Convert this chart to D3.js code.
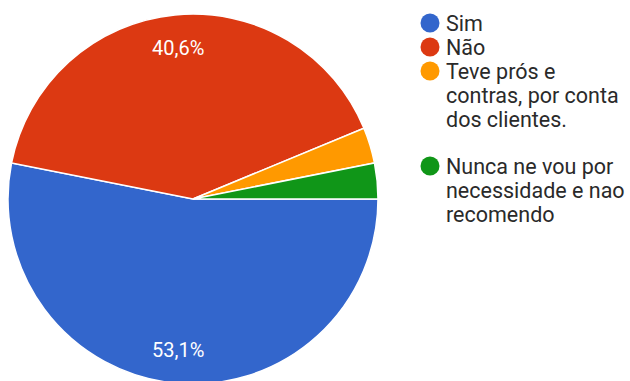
<!DOCTYPE html>
<html>
<head>
<meta charset="utf-8">
<script src="https://cdn.jsdelivr.net/npm/d3@7"></script>
<style>
  html, body { margin: 0; padding: 0; background: #fff; }
  svg { display: block; }
</style>
</head>
<body>
<svg id="chart" width="630" height="381"></svg>
<script>
// Survey answers and response counts
const categories = ["Sim", "Não", "Teve prós e contras, por conta dos clientes.", "Nunca ne vou por necessidade e nao recomendo"];
const counts = [17, 13, 1, 1];
const colors = ["#3366cc", "#dc3912", "#ff9900", "#109618"];
const legendLines = [
  ["Sim"],
  ["Não"],
  ["Teve prós e", "contras, por conta", "dos clientes."],
  ["Nunca ne vou por", "necessidade e nao", "recomendo"]
];

const svg = d3.select("#chart");
const cx = 193, cy = 199, r = 185;
const total = d3.sum(counts);

// Slices run clockwise, starting at 3 o'clock
const pie = d3.pie().sort(null).value(d => d)
  .startAngle(Math.PI / 2).endAngle(Math.PI / 2 + 2 * Math.PI);
const arcs = pie(counts);
const arc = d3.arc().innerRadius(0).outerRadius(r);
const labelArc = d3.arc().innerRadius(r * 0.82).outerRadius(r * 0.82);

const g = svg.append("g").attr("transform", `translate(${cx},${cy})`);
g.selectAll("path.slice").data(arcs).enter().append("path")
  .attr("class", "slice")
  .attr("d", arc)
  .attr("fill", (d, i) => colors[i])
  .attr("stroke", "#fff")
  .attr("stroke-width", 1.5);

// Percentage labels on the larger slices
const fmt = v => (v * 100).toFixed(1).replace(".", ",") + "%";
g.selectAll("text.pct").data(arcs.filter(d => d.value / total > 0.05)).enter().append("text")
  .attr("class", "pct")
  .attr("transform", d => `translate(${labelArc.centroid(d)})`)
  .attr("text-anchor", "middle")
  .attr("dy", "0.35em")
  .attr("fill", "#fff")
  .style("font-family", "Roboto, sans-serif")
  .style("font-size", "20px")
  .text(d => fmt(d.value / total));

// Legend
const legend = svg.append("g").style("font-family", "Roboto, sans-serif").style("font-size", "21.5px");
const lineH = 24;
let y = 23;
legendLines.forEach((lines, i) => {
  const item = legend.append("g");
  item.append("circle").attr("cx", 430).attr("cy", y).attr("r", 9.5).attr("fill", colors[i]);
  lines.forEach((t, j) => {
    item.append("text").attr("x", 446).attr("y", y + j * lineH).attr("dy", "0.35em")
      .attr("fill", "#2a2a2a").text(t);
  });
  y += lines.length * lineH + (lines.length > 1 ? 23 : 0);
});
</script>
</body>
</html>
